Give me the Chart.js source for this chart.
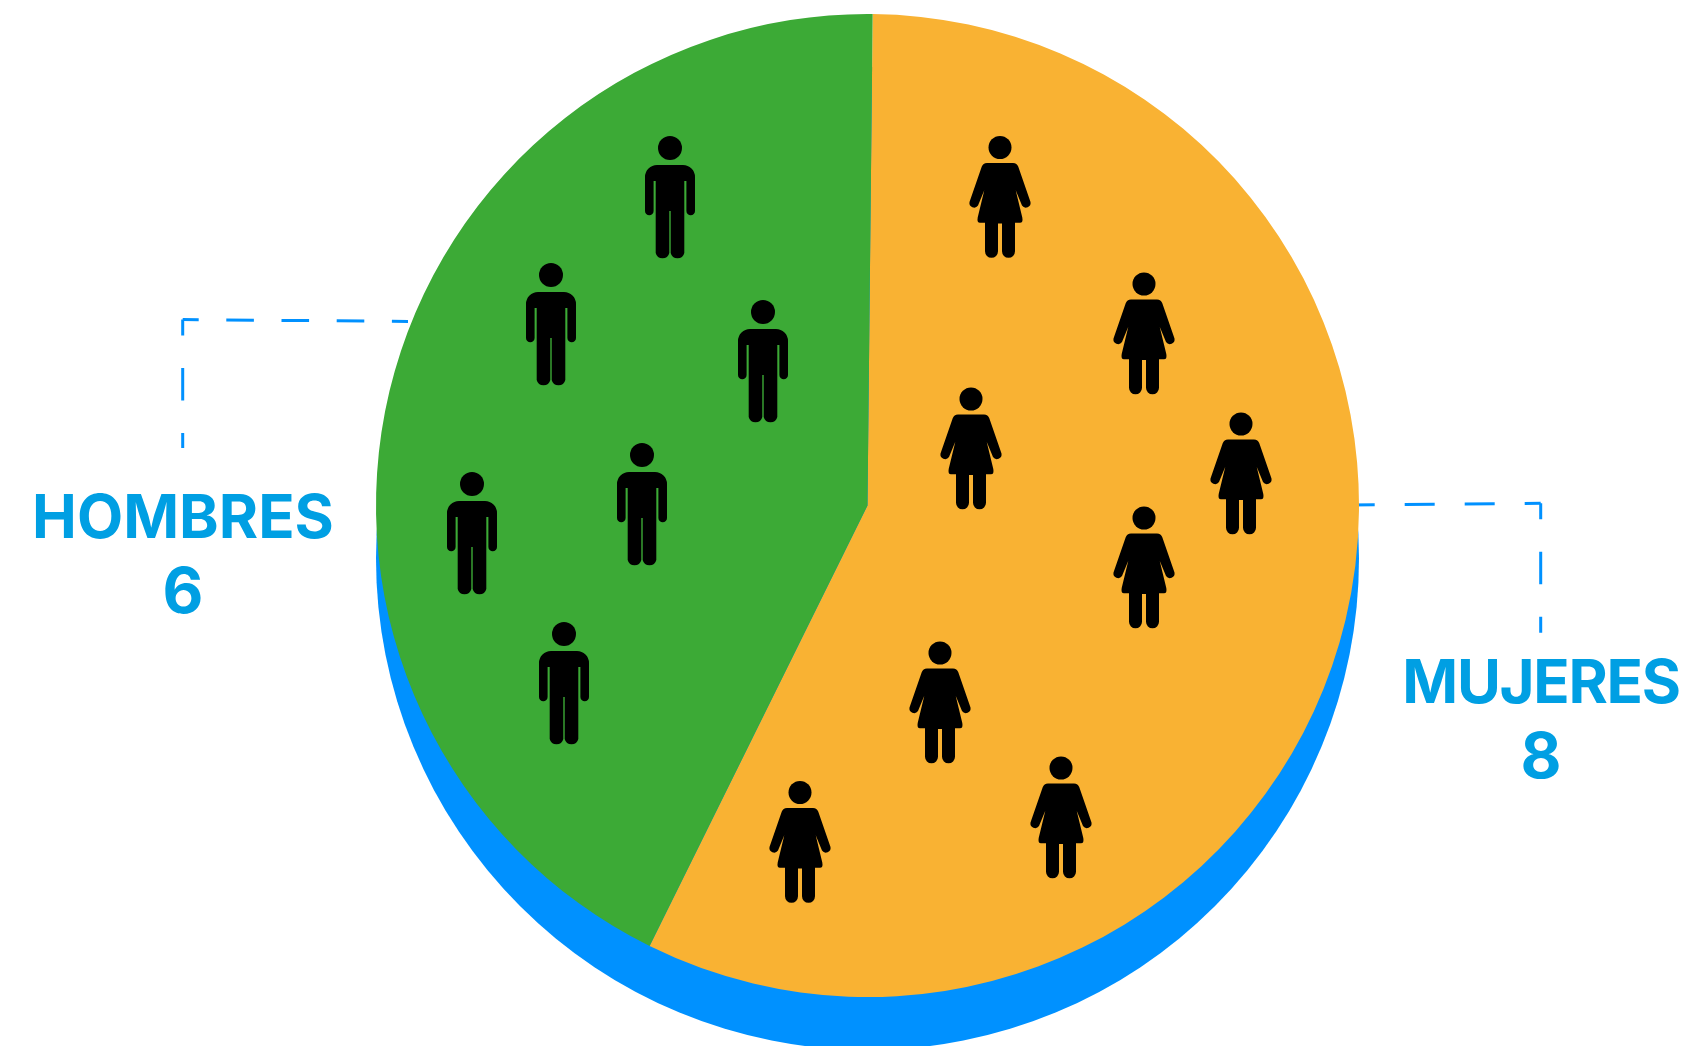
<!DOCTYPE html>
<html lang="es">
<head>
  <meta charset="UTF-8">
  <title>Hombres y mujeres</title>
  <style>
    html, body { margin: 0; padding: 0; background: #fff; overflow: hidden; }
    #chart { display: block; }
  </style>
</head>
<body>
  <canvas id="chart" width="1686" height="1046"></canvas>

  <script src="https://cdn.jsdelivr.net/npm/chart.js"></script>
  <script>
    const categories = ['MUJERES', 'HOMBRES'];
    const counts = [8, 6];
    const sliceColors = ['#F9B233', '#3CAA36'];

    // cabeza de cada figura, en pixeles
    const menSpots = [[670,148],[551,275],[763,312],[642,455],[472,484],[564,634]];
    const womenSpots = [[1000,147.5],[1144,284],[971,399],[1241,424],[1144,518],[940,653],[1061,768],[800,792.5]];

    const SHADOW = '#0091FF', TEXT = '#009FE3';

    const manBody = new Path2D('M-25 29A12 12 0 0 1-13 17H13A12 12 0 0 1 25 29V63A4.3 4.3 0 0 1 16.4 63V33H14.3V105A7 7 0 0 1 .7 105V63H-.7V105A7 7 0 0 1-14.3 105V33H-16.4V63A4.3 4.3 0 0 1-25 63Z');
    const womanBody = new Path2D('M-13 15.4H13Q17 15.4 18.3 19.3L30.5 54.5A4.7 4.7 0 0 1 22 58L15.7 42.7L22.3 70Q23.3 75.3 20 75.3H15V103.8A6.5 6.5 0 0 1 2 103.8V76H-2V103.8A6.5 6.5 0 0 1-15 103.8V75.3H-20Q-23.3 75.3-22.3 70L-15.7 42.7L-22 58A4.7 4.7 0 0 1-30.5 54.5L-18.3 19.3Q-17 15.4-13 15.4Z');

    function dashed(ctx, x1, y1, x2, y2, dash, firstDash) {
      ctx.setLineDash([dash, dash]);
      ctx.lineDashOffset = dash - firstDash;
      ctx.beginPath();
      ctx.moveTo(x1, y1);
      ctx.lineTo(x2, y2);
      ctx.stroke();
    }

    function drawLabel(ctx, name, value, x, y1, y2, spacing) {
      ctx.fillStyle = TEXT;
      ctx.textAlign = 'center';
      ctx.textBaseline = 'alphabetic';
      ctx.font = '700 60px Inter, sans-serif';
      ctx.letterSpacing = spacing + 'px';
      ctx.fillText(name, x, y1);
      ctx.letterSpacing = '0px';
      ctx.font = '700 63px Inter, sans-serif';
      ctx.fillText(value, x, y2);
    }

    const decor = {
      id: 'decor',
      beforeDatasetsDraw(chart) {
        const ctx = chart.ctx, arc = chart.getDatasetMeta(0).data[0];
        ctx.save();
        // circulo azul desplazado detras del pastel
        ctx.fillStyle = SHADOW;
        ctx.beginPath();
        ctx.arc(arc.x, arc.y + 53, arc.outerRadius, 0, Math.PI * 2);
        ctx.fill();
        // guias
        ctx.strokeStyle = SHADOW;
        ctx.lineWidth = 3;
        dashed(ctx, 182.7, 319.5, 408, 321.5, 27.6, 16);
        dashed(ctx, 182.7, 319.5, 182.7, 448, 32.5, 16);
        dashed(ctx, 1540.7, 503.3, 1350, 505, 30, 16);
        dashed(ctx, 1540.7, 503.3, 1540.7, 632.7, 32.5, 16);
        ctx.restore();
      },
      afterDatasetsDraw(chart) {
        const ctx = chart.ctx;
        ctx.save();
        ctx.fillStyle = '#000';
        menSpots.forEach(p => {
          ctx.save();
          ctx.translate(p[0], p[1]);
          ctx.beginPath();
          ctx.arc(0, 0, 12, 0, Math.PI * 2);
          ctx.fill();
          ctx.fill(manBody);
          ctx.restore();
        });
        womenSpots.forEach(p => {
          ctx.save();
          ctx.translate(p[0], p[1]);
          ctx.beginPath();
          ctx.arc(0, 0, 11.5, 0, Math.PI * 2);
          ctx.fill();
          ctx.fill(womanBody);
          ctx.restore();
        });
        drawLabel(ctx, categories[1], String(counts[1]), 183, 538, 613, 0);
        drawLabel(ctx, categories[0], String(counts[0]), 1541, 702.7, 778, -1.3);
        ctx.restore();
      }
    };

    new Chart(document.getElementById('chart').getContext('2d'), {
      type: 'pie',
      data: {
        labels: categories,
        datasets: [{ data: counts, backgroundColor: sliceColors, borderWidth: 0 }]
      },
      options: {
        responsive: false,
        animation: false,
        rotation: 0.6,
        layout: { padding: { left: 376, top: 14, right: 327, bottom: 49 } },
        plugins: { legend: { display: false }, tooltip: { enabled: false } }
      },
      plugins: [decor]
    });
  </script>
</body>
</html>
